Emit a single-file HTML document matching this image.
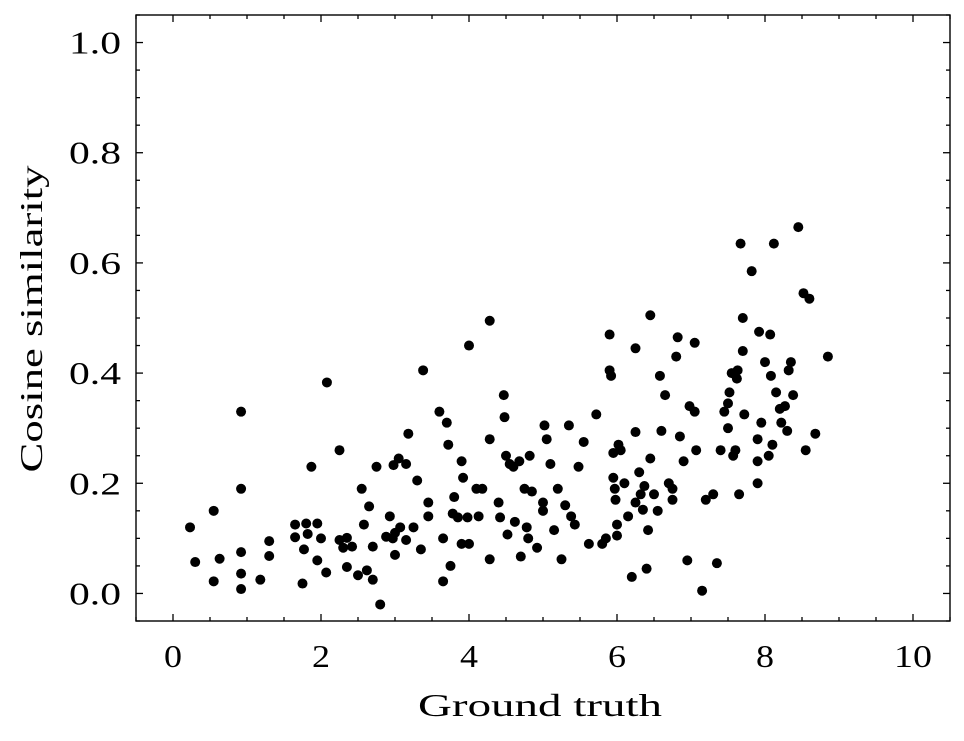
<!DOCTYPE html>
<html><head><meta charset="utf-8"><style>
html,body{margin:0;padding:0;background:#fff;}
svg{display:block;font-family:"Liberation Serif","DejaVu Serif",serif;}
</style></head><body>
<svg id="chart" width="964" height="741" viewBox="0 0 964 741">
<g id="ticks"></g>
<g id="points"></g>
<rect x="136" y="15" width="814" height="606" fill="none" stroke="#000" stroke-width="1.4"/>
<text x="540" y="716" font-size="32" text-anchor="middle" textLength="244" lengthAdjust="spacingAndGlyphs">Ground truth</text>
<text transform="translate(42,319) rotate(-90)" font-size="32" text-anchor="middle" textLength="307" lengthAdjust="spacingAndGlyphs">Cosine similarity</text>
</svg>
<script>
const xTicks=[0,2,4,6,8,10];
const yTicks=[0.0,0.2,0.4,0.6,0.8,1.0];
const xVals=[0.23,0.3,0.55,0.55,0.63,0.92,0.92,0.92,0.92,0.92,1.18,1.3,1.3,1.65,1.65,1.75,1.77,1.8,1.82,1.87,1.95,1.95,2.08,2.07,2.25,2.25,2.3,2.35,2.35,2.42,2.5,2.55,2.58,2.62,2.65,2.7,2.7,2.75,2.8,2.88,2.93,2.97,2.98,3.0,3.05,3.07,3.15,3.18,3.15,3.25,3.3,3.35,3.38,3.45,3.45,3.6,3.65,3.65,3.7,3.72,3.75,3.78,3.8,3.85,3.9,3.9,3.92,3.98,4.0,4.0,4.1,4.13,4.18,4.28,4.28,4.28,4.4,4.42,4.47,4.48,4.5,4.52,4.55,4.62,4.68,4.7,4.75,4.78,4.8,4.82,4.85,4.92,5.0,5.0,5.02,5.05,5.1,5.15,5.25,5.3,5.35,5.38,5.43,5.48,5.55,5.62,5.72,5.8,5.85,5.9,5.9,5.92,5.95,5.95,5.97,5.98,6.0,6.0,6.02,6.05,6.1,6.15,6.2,6.25,6.25,6.25,6.3,6.32,6.37,6.35,6.4,6.42,6.45,6.45,6.5,6.55,6.58,6.6,6.65,6.75,6.75,6.8,6.82,6.85,6.9,6.95,6.98,7.05,7.05,7.07,7.15,7.2,7.3,7.35,7.4,7.45,7.5,7.52,7.55,7.57,7.6,7.62,7.63,7.65,7.67,7.7,7.7,7.72,7.82,7.9,7.9,7.92,7.95,8.0,8.05,8.07,8.08,8.12,8.15,8.2,8.22,8.27,8.32,8.35,8.38,8.45,8.52,8.55,8.6,8.68,8.85,8.3,8.1,7.5,7.9,6.7,5.2,3.0,2.0,4.6];
const yVals=[0.12,0.057,0.15,0.022,0.063,0.008,0.33,0.19,0.075,0.036,0.025,0.095,0.068,0.125,0.102,0.018,0.08,0.127,0.108,0.23,0.127,0.06,0.383,0.038,0.26,0.097,0.083,0.101,0.048,0.085,0.033,0.19,0.125,0.042,0.158,0.085,0.025,0.23,-0.02,0.103,0.14,0.1,0.233,0.07,0.245,0.12,0.235,0.29,0.097,0.12,0.205,0.08,0.405,0.165,0.14,0.33,0.1,0.022,0.31,0.27,0.05,0.145,0.175,0.138,0.24,0.09,0.21,0.138,0.45,0.09,0.19,0.14,0.19,0.28,0.062,0.495,0.165,0.138,0.36,0.32,0.25,0.107,0.235,0.13,0.24,0.067,0.19,0.12,0.1,0.25,0.185,0.083,0.15,0.165,0.305,0.28,0.235,0.115,0.062,0.16,0.305,0.14,0.125,0.23,0.275,0.09,0.325,0.09,0.1,0.47,0.405,0.395,0.255,0.21,0.19,0.17,0.125,0.105,0.27,0.26,0.2,0.14,0.03,0.445,0.293,0.165,0.22,0.18,0.195,0.152,0.045,0.115,0.505,0.245,0.18,0.15,0.395,0.295,0.36,0.19,0.17,0.43,0.465,0.285,0.24,0.06,0.34,0.455,0.33,0.26,0.005,0.17,0.18,0.055,0.26,0.33,0.345,0.365,0.4,0.25,0.26,0.39,0.405,0.18,0.635,0.44,0.5,0.325,0.585,0.28,0.2,0.475,0.31,0.42,0.25,0.47,0.395,0.635,0.365,0.335,0.31,0.34,0.405,0.42,0.36,0.665,0.545,0.26,0.535,0.29,0.43,0.295,0.27,0.3,0.24,0.2,0.19,0.11,0.1,0.23];
const L=136,R=950,T=15,B=621;
const xMin=-0.5,xMax=10.5,yMin=-0.05,yMax=1.05;
const sx=v=>L+(v-xMin)/(xMax-xMin)*(R-L);
const sy=v=>B-(v-yMin)/(yMax-yMin)*(B-T);
const NS="http://www.w3.org/2000/svg";
const tg=document.getElementById('ticks');
function line(x1,y1,x2,y2,name){const l=document.createElementNS(NS,'line');
l.setAttribute('x1',x1);l.setAttribute('y1',y1);l.setAttribute('x2',x2);l.setAttribute('y2',y2);
l.setAttribute('stroke','#000');l.setAttribute('stroke-width','1.3');


tg.appendChild(l);}
function text(x,y,s,anchor,name,len){const t=document.createElementNS(NS,'text');
t.setAttribute('x',x);t.setAttribute('y',y);t.setAttribute('font-size','32');t.setAttribute('text-anchor',anchor);t.textContent=s;
t.setAttribute('textLength',len);t.setAttribute('lengthAdjust','spacingAndGlyphs');


tg.appendChild(t);}
for(let v=-0.5;v<=10.5001;v+=0.5){const x=sx(v);const major=Math.abs(v/2-Math.round(v/2))<1e-6;const len=major?7:4;
line(x,B,x,B-len,'x-tick');line(x,T,x,T+len,'x-tick-top');}
xTicks.forEach(v=>{const s=String(v);text(sx(v),667,s,'middle','x-tick-label',s.length>1?38:18);});
for(let v=-0.05;v<=1.0501;v+=0.05){const y=sy(v);const major=Math.abs(v/0.2-Math.round(v/0.2))<1e-6;const len=major?7:4;
line(L,y,L+len,y,'y-tick');line(R,y,R-len,y,'y-tick-right');}
yTicks.forEach(v=>text(121,sy(v)+11,v.toFixed(1),'end','y-tick-label',52));
const pg=document.getElementById('points');
xVals.forEach((xv,i)=>{const c=document.createElementNS(NS,'circle');
c.setAttribute('cx',sx(xv));c.setAttribute('cy',sy(yVals[i]));c.setAttribute('r','5');c.setAttribute('fill','#000');


pg.appendChild(c);});
</script>
</body></html>
